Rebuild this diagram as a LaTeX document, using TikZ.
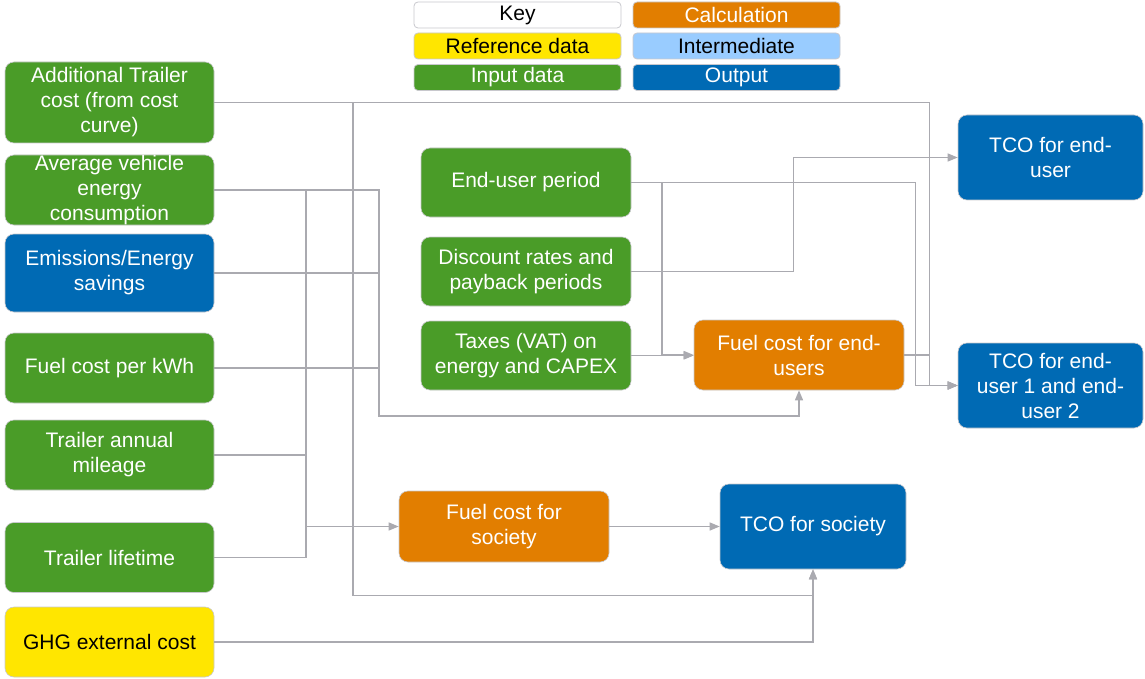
\documentclass[tikz,border=0pt]{standalone}
\usepackage{fontspec}
\setmainfont{Liberation Sans}
\usetikzlibrary{calc,arrows.meta}
\definecolor{ingreen}{RGB}{74,156,40}
\definecolor{calcorange}{RGB}{226,126,0}
\definecolor{outblue}{RGB}{0,106,180}
\definecolor{refyellow}{RGB}{255,230,0}
\definecolor{interblue}{RGB}{153,204,255}
\definecolor{linegrey}{RGB}{170,170,176}
\definecolor{edgegrey}{RGB}{200,200,205}
\tikzset{
  box/.style={rounded corners=9pt, draw=edgegrey, line width=0.6pt, align=center, inner sep=0pt,
    font=\fontsize{21}{25}\selectfont, minimum width=209pt, minimum height=70pt},
  keybox/.style={rounded corners=4pt, draw=edgegrey, line width=0.8pt, align=center, inner sep=0pt,
    font=\fontsize{21}{24}\selectfont, minimum width=207pt, minimum height=26pt},
  inbox/.style={box, fill=ingreen, text=white},
  calcbox/.style={box, fill=calcorange, text=white},
  outbox/.style={box, fill=outblue, text=white},
  refbox/.style={box, fill=refyellow, text=black},
  conn/.style={draw=linegrey, line width=1.3pt},
  arr/.style={conn, -{Triangle[length=10pt,width=8pt]}, color=linegrey},
}
\begin{document}
\begin{tikzpicture}[x=1pt,y=-1pt]
\useasboundingbox (0,0) rectangle (1145,679);
% key
\node[keybox, fill=white] (kkey) at (517.5,15) {Key};
\node[keybox, fill=calcorange, text=white] (kcalc) at (736.5,15) {Calculation};
\node[keybox, fill=refyellow] (kref) at (517.5,46) {Reference data};
\node[keybox, fill=interblue] (kint) at (736.5,46) {Intermediate};
\node[keybox, fill=ingreen, text=white] (kin) at (517.5,77.5) {Input data};
\node[keybox, fill=outblue, text=white] (kout) at (736.5,77.5) {Output};
% left column
\node[inbox, minimum height=81pt] (atc) at (109.5,102.5) {Additional Trailer\\cost (from cost\\curve)};
\node[inbox] (avec) at (109.5,190) {Average vehicle\\energy\\consumption};
\node[outbox, minimum height=78pt] (emis) at (109.5,273) {Emissions/Energy\\savings};
\node[inbox] (fkwh) at (109.5,368) {Fuel cost per kWh};
\node[inbox] (mil) at (109.5,455) {Trailer annual\\mileage};
\node[inbox] (life) at (109.5,557.5) {Trailer lifetime};
\node[refbox] (ghg) at (109.5,642) {GHG external cost};
% middle column
\node[inbox, minimum width=210pt, minimum height=69pt] (eup) at (526,182.5) {End-user period};
\node[inbox, minimum width=210pt, minimum height=69pt] (disc) at (526,271.5) {Discount rates and\\payback periods};
\node[inbox, minimum width=210pt, minimum height=69pt] (tax) at (526,355.5) {Taxes (VAT) on\\energy and CAPEX};
\node[calcbox, minimum width=210pt] (fceu) at (799,355) {Fuel cost for end-\\users};
\node[calcbox, minimum width=210pt, minimum height=71pt] (fcs) at (504,526.5) {Fuel cost for\\society};
% outputs
\node[outbox, minimum width=186pt, minimum height=85pt] (tcos) at (813,526.5) {TCO for society};
\node[outbox, minimum width=185pt, minimum height=85pt] (tcoeu) at (1050.5,157.5) {TCO for end-\\user};
\node[outbox, minimum width=185pt, minimum height=85pt] (tcoeu12) at (1050.5,385.5) {TCO for end-\\user 1 and end-\\user 2};
% bus coordinates
\coordinate (bus306) at (306,526.5);
\coordinate (bus353) at (353,102.5);
\coordinate (bus379) at (379,416);
\coordinate (bus662) at (662,355);
% connectors from Additional Trailer cost
\draw[arr] (atc.east) -| ($(tcoeu12.west)+(-28,0)$) -- (tcoeu12.west);
\draw[arr] (bus353) |- ($(tcos.south)+(0,26)$) -- (tcos.south);
% GHG
\draw[arr] (ghg.east) -| (tcos.south);
% bus 379 to fuel cost for end-users
\draw[arr] (avec.east) -| (bus379) -| (fceu.south);
\draw[conn] (emis.east) -- (emis.east -| bus379);
\draw[conn] (fkwh.east) -- (fkwh.east -| bus379);
% bus 306 to fuel cost for society
\draw[conn] (avec.east -| bus306) -- (life.east -| bus306);
\draw[conn] (mil.east) -- (mil.east -| bus306);
\draw[conn] (life.east) -- (life.east -| bus306);
\draw[arr] (bus306) -- (fcs.west);
% end-user period
\draw[arr] (eup.east) -| ($(tcoeu12.west)+(-42,0)$) -- (tcoeu12.west);
\draw[arr] (eup.east -| bus662) |- (fceu.west);
% discount rates
\draw[arr] (disc.east) -- ++(162,0) |- (tcoeu.west);
% taxes
\draw[arr] (tax.east) -- (tax.east -| fceu.west);
% fuel cost for end-users
\draw[arr] (fceu.east) -| ($(tcoeu12.west)+(-28,0)$) -- (tcoeu12.west);
% fuel cost for society
\draw[arr] (fcs.east) -- (tcos.west);
\end{tikzpicture}
\end{document}
